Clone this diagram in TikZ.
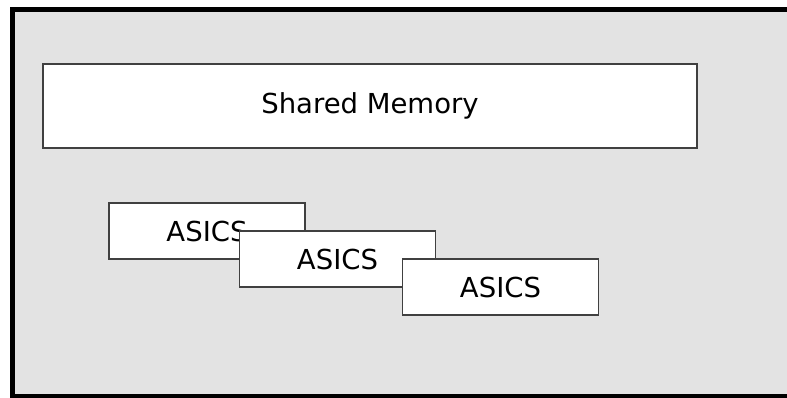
\documentclass[tikz,border=0pt]{standalone}
\usepackage{fontspec}
\setmainfont{DejaVu Sans}

\begin{document}
\begin{tikzpicture}[x=1pt, y=-1pt,
    box/.style = {draw=black!75, line width=1.6pt, fill=white, inner sep=0pt,
      font=\fontsize{27.5}{32}\selectfont},
    mem/.style = {box, minimum width=654pt, minimum height=84pt},
    asics/.style = {box, minimum width=196pt, minimum height=56pt}]
      \useasboundingbox (0,0) rectangle (787,398);

      % outer frame
      \draw[line width=5pt, fill=black!11] (12,9.5) rectangle (796,396);

      \node[mem](shared) at (370,106) {Shared Memory};

      \node[asics](a1) at (207,231) {ASICS};
      \node[asics](a2) at ([shift={(130.5,28)}]a1) {ASICS};
      \node[asics](a3) at ([shift={(163,28)}]a2) {ASICS};
    \end{tikzpicture}
\end{document}
